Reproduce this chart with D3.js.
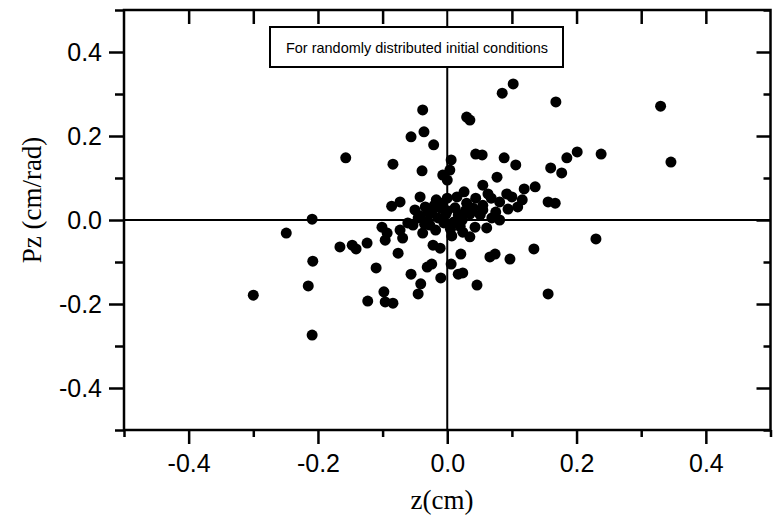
<!DOCTYPE html>
<html>
<head>
<meta charset="utf-8">
<script src="https://cdn.jsdelivr.net/npm/d3@7"></script>
<style>
  body { margin: 0; background: #fff; }
  text { fill: #000; }
</style>
</head>
<body>
<div id="chart"></div>
<script>
// scatter of z vs Pz
const zValues = [
  0.102, 0.085, 0.168, 0.330, -0.038, 0.030, 0.035, -0.036, -0.056, -0.021,
  -0.157, -0.084, -0.039, 0.006, 0.004, -0.007, 0.000, 0.044, 0.054, 0.088,
  0.106, 0.077, 0.055, 0.026, 0.136, 0.119, -0.042, 0.160, 0.177, 0.185,
  0.201, 0.238, 0.346, 0.063, 0.068, 0.044, 0.092, 0.100, 0.116, 0.081,
  0.156, 0.167, 0.030, 0.035, 0.000, 0.094, 0.109, 0.075, 0.055, 0.051,
  -0.086, -0.073, -0.209, -0.249, -0.166, -0.147, -0.141, -0.124, -0.101, -0.093,
  -0.096, -0.073, -0.069, -0.076, -0.208, -0.110, -0.215, -0.300, -0.098, -0.096,
  -0.084, -0.123, -0.209, 0.230, 0.156, -0.022, -0.011, 0.021, 0.134, 0.066,
  0.074, 0.097, -0.031, -0.024, -0.056, -0.010, 0.006, 0.017, 0.024, 0.046,
  -0.041, -0.045, -0.053, -0.061, -0.038, -0.027, 0.004, 0.024, 0.035, 0.043,
  0.061, 0.081, -0.050, -0.034, -0.024, -0.011, -0.014, -0.002, 0.012, 0.017,
  0.023, -0.042, -0.030, -0.005, -0.018, 0.007, -0.017, 0.015, 0.069, 0.035,
  -0.045, -0.020, 0.000, 0.010, 0.028, -0.008, 0.040, -0.028, 0.005, -0.035,
  0.020, 0.055
];
const pzValues = [
  0.324, 0.302, 0.281, 0.271, 0.262, 0.245, 0.238, 0.210, 0.198, 0.179,
  0.148, 0.133, 0.117, 0.143, 0.119, 0.107, 0.095, 0.157, 0.155, 0.148,
  0.131, 0.102, 0.083, 0.067, 0.079, 0.074, 0.055, 0.124, 0.112, 0.148,
  0.162, 0.157, 0.138, 0.062, 0.052, 0.052, 0.062, 0.055, 0.048, 0.043,
  0.043, 0.040, 0.040, 0.029, 0.052, 0.026, 0.031, 0.019, 0.024, 0.012,
  0.033, 0.043, 0.002, -0.031, -0.064, -0.060, -0.069, -0.055, -0.017, -0.031,
  -0.048, -0.024, -0.043, -0.079, -0.098, -0.114, -0.157, -0.179, -0.171, -0.195,
  -0.198, -0.193, -0.274, -0.045, -0.176, -0.060, -0.067, -0.081, -0.069, -0.088,
  -0.081, -0.093, -0.112, -0.105, -0.129, -0.138, -0.105, -0.129, -0.126, -0.155,
  -0.152, -0.176, -0.012, -0.007, -0.031, -0.012, -0.012, -0.029, -0.040, -0.017,
  -0.019, 0.000, 0.024, 0.031, 0.017, 0.029, 0.005, 0.014, 0.029, 0.012,
  0.000, 0.010, -0.002, -0.007, -0.024, -0.038, 0.048, 0.055, 0.005, 0.014,
  0.005, 0.035, 0.022, -0.005, 0.022, 0.040, 0.028, 0.018, -0.022, -0.010,
  -0.015, 0.035
];
const majorTicks = [-0.4, -0.2, 0.0, 0.2, 0.4];
const minorTicks = [-0.5, -0.3, -0.1, 0.1, 0.3, 0.5];
const allTicks = [-0.4, -0.3, -0.2, -0.1, 0.1, 0.2, 0.3, 0.4];
const legendText = "For randomly distributed initial conditions";

const W = 776, H = 516;
const plot = { left: 124, right: 770.5, top: 10, bottom: 430 };

const svg = d3.select("#chart").append("svg")
  .attr("width", W).attr("height", H);

const x = d3.scaleLinear().domain([-0.5, 0.5]).range([plot.left, plot.right]);
const y = d3.scaleLinear().domain([-0.5, 0.5]).range([plot.bottom, plot.top]);

const fmt = d => d3.format(".1f")(d).replace("−", "-");
const tickFont = "Liberation Sans, Arial, sans-serif";

function styleAxis(g, withText) {
  g.select(".domain").remove();
  g.selectAll("line").attr("stroke", "#000").attr("stroke-width", 2.5);
  g.selectAll("text").attr("font-family", tickFont).attr("font-size", 25)
    .attr("fill", "#000");
  if (!withText) g.selectAll("text").remove();
}

// zero lines
svg.append("line")
  .attr("x1", plot.left).attr("x2", plot.right)
  .attr("y1", y(0)).attr("y2", y(0))
  .attr("stroke", "#000").attr("stroke-width", 2);
svg.append("line")
  .attr("x1", x(0)).attr("x2", x(0))
  .attr("y1", plot.top).attr("y2", plot.bottom)
  .attr("stroke", "#000").attr("stroke-width", 2);

// bottom axis
svg.append("g").attr("transform", `translate(0,${plot.bottom})`)
  .call(d3.axisBottom(x).tickValues(majorTicks).tickSize(14).tickPadding(10).tickFormat(fmt))
  .call(g => styleAxis(g, true));
svg.append("g").attr("transform", `translate(0,${plot.bottom})`)
  .call(d3.axisBottom(x).tickValues(minorTicks).tickSize(7))
  .call(g => styleAxis(g, false));

// top axis, ticks inward
svg.append("g").attr("transform", `translate(0,${plot.top})`)
  .call(d3.axisTop(x).tickValues(allTicks).tickSize(-14))
  .call(g => styleAxis(g, false));

// left axis
svg.append("g").attr("transform", `translate(${plot.left},0)`)
  .call(d3.axisLeft(y).tickValues(majorTicks).tickSize(15).tickPadding(7).tickFormat(fmt))
  .call(g => styleAxis(g, true));
svg.append("g").attr("transform", `translate(${plot.left},0)`)
  .call(d3.axisLeft(y).tickValues(minorTicks).tickSize(9))
  .call(g => styleAxis(g, false));

// right axis, ticks inward
svg.append("g").attr("transform", `translate(${plot.right},0)`)
  .call(d3.axisRight(y).tickValues(majorTicks).tickSize(-14))
  .call(g => styleAxis(g, false));
svg.append("g").attr("transform", `translate(${plot.right},0)`)
  .call(d3.axisRight(y).tickValues(minorTicks).tickSize(-7))
  .call(g => styleAxis(g, false));

// frame
svg.append("rect")
  .attr("x", plot.left).attr("y", plot.top)
  .attr("width", plot.right - plot.left).attr("height", plot.bottom - plot.top)
  .attr("fill", "none").attr("stroke", "#000").attr("stroke-width", 2.5);

// points
const points = zValues.map((z, i) => ({ z: z, pz: pzValues[i] }));
svg.append("g").selectAll("circle")
  .data(points)
  .enter()
  .append("circle")
  .attr("cx", d => x(d.z))
  .attr("cy", d => y(d.pz))
  .attr("r", 5.5)
  .attr("fill", "#000");

// legend box
const legend = svg.append("g");
legend.append("rect")
  .attr("x", 270).attr("y", 27).attr("width", 293).attr("height", 40)
  .attr("fill", "#fff").attr("stroke", "#000").attr("stroke-width", 2);
legend.append("text")
  .attr("x", 286).attr("y", 53)
  .attr("font-family", "Liberation Sans Narrow, Liberation Sans, Arial, sans-serif")
  .attr("font-size", 15)
  .attr("textLength", 262)
  .attr("lengthAdjust", "spacingAndGlyphs")
  .text(legendText);

// axis titles
svg.append("text")
  .attr("x", 442).attr("y", 509)
  .attr("text-anchor", "middle")
  .attr("font-family", "Liberation Serif, Times New Roman, serif")
  .attr("font-size", 27)
  .text("z(cm)");

svg.append("text")
  .attr("transform", "translate(41,200) rotate(-90)")
  .attr("text-anchor", "middle")
  .attr("font-family", "Liberation Serif, Times New Roman, serif")
  .attr("font-size", 27)
  .text("Pz (cm/rad)");
</script>
</body>
</html>
